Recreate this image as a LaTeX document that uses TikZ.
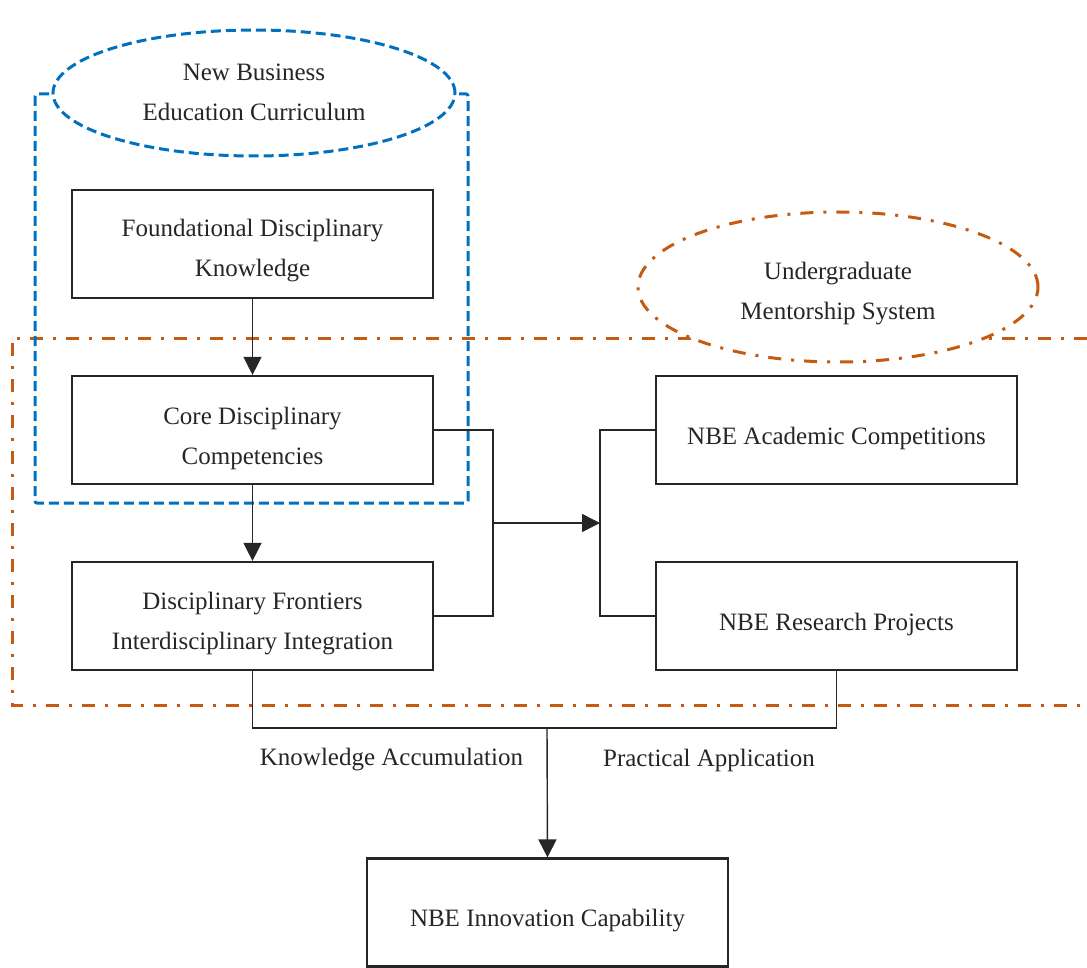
\documentclass[tikz,border=0pt]{standalone}
\usepackage{fontspec}
\setmainfont{Liberation Serif}
\usetikzlibrary{shapes.geometric,arrows.meta}
\definecolor{cblue}{RGB}{0,112,192}
\definecolor{corange}{RGB}{197,90,17}
\begin{document}
\begin{tikzpicture}[x=1pt,y=-1pt,
  box/.style={draw=black!85,line width=2.2pt,minimum width=361pt,minimum height=108pt,inner sep=0pt},
  txt/.style={align=center,text=black!85,inner sep=0pt,font=\fontsize{25}{40}\selectfont},
  conn/.style={draw=black!85,line width=1.4pt},
  arr/.style={conn,-{Triangle[length=18pt,width=18pt]}},
  bluedash/.style={draw=cblue,line width=3pt,dash pattern=on 10pt off 5pt},
  orangedash/.style={draw=corange,line width=3pt,dash pattern=on 13pt off 10pt on 3pt off 10pt}]
\useasboundingbox (0,0) rectangle (1087,968);
% orange group region
\draw[orangedash] (1087,338) -- (12,338) -- (12,705) -- (1087,705);
% blue group region
\draw[bluedash,rounded corners=2pt] (35,94) rectangle (468,503);
% ellipses
\node[ellipse,bluedash,fill=white,minimum width=402pt,minimum height=126pt] (ne) at (254,93) {};
\node[txt] (net) at (254,92.5) {New Business\\Education Curriculum};
\node[ellipse,orangedash,fill=white,minimum width=400pt,minimum height=150pt] (um) at (838,287) {};
\node[txt] (umt) at (838,294) {Undergraduate\\Mentorship System};
% boxes
\node[box] (f1) at (252.5,244) {};
\node[txt] (f1t) at (252.5,251) {Foundational Disciplinary\\Knowledge};
\node[box] (c2) at (252.5,430) {};
\node[txt] (c2t) at (252.5,438) {Core Disciplinary\\Competencies};
\node[box] (d3) at (252.5,616) {};
\node[txt] (d3t) at (252.5,624) {Disciplinary Frontiers\\Interdisciplinary Integration};
\node[box] (a4) at (836.5,430) {};
\node[txt] (a4t) at (836.5,438) {NBE Academic Competitions};
\node[box] (r5) at (836.5,616) {};
\node[txt] (r5t) at (836.5,624) {NBE Research Projects};
\node[box] (i6) at (547.5,912.5) {};
\node[txt] (i6t) at (547.5,921) {NBE Innovation Capability};
% connectors
\coordinate (jl) at (493,523);
\coordinate (jr) at (600,523);
\coordinate (jb) at (547,728);
\draw[arr] (f1) -- (c2);
\draw[arr] (c2) -- (d3);
\draw[conn] (c2.east) -| (jl) |- (d3.east);
\draw[arr] (jl) -- (jr);
\draw[conn] (a4.west) -| (jr) |- (r5.west);
\draw[conn] (d3.south) |- (jb) -| (r5.south);
\draw[arr] (jb) -- (i6.north);
\node[txt] (ka) at (391.5,760) {Knowledge Accumulation};
\node[txt] (pa) at (709,760) {Practical Application};
\end{tikzpicture}
\end{document}
